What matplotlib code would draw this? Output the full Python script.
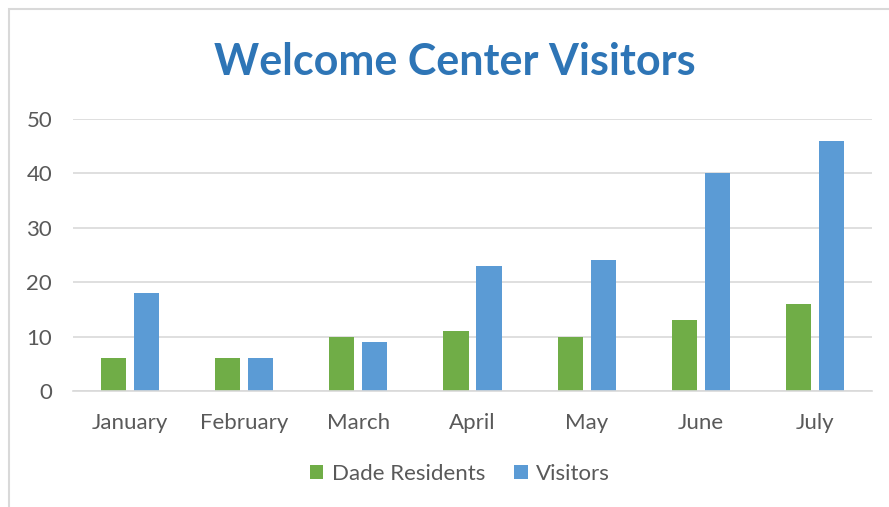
import matplotlib.pyplot as plt
import numpy as np
from matplotlib.patches import Rectangle

months = ['January', 'February', 'March', 'April', 'May', 'June', 'July']
residents = [6, 6, 10, 11, 10, 13, 16]
visitors = [18, 6, 9, 23, 24, 40, 46]

W, H = 889, 507
fig = plt.figure(figsize=(W / 100, H / 100), dpi=100)
plt.rcParams['font.family'] = ['Lato', 'DejaVu Sans']

# chart border (cropped on the right and bottom)
fig.patches.append(Rectangle((8.5 / W, -0.1), 1.2, (H - 8.5) / H + 0.1,
                             transform=fig.transFigure, fill=False,
                             edgecolor='#D9D9D9', linewidth=1.5))

ax = fig.add_axes([73 / W, 116 / H, (872 - 73) / W, (391 - 119) / H])

x = np.arange(len(months))
bw = 0.22
gap = 0.07
ax.bar(x - (bw + gap) / 2, residents, bw, color='#70AD47', label='Dade Residents')
ax.bar(x + (bw + gap) / 2, visitors, bw, color='#5B9BD5', label='Visitors')

ax.set_xlim(-0.5, len(months) - 0.5)
ax.set_ylim(0, 50)
ax.set_yticks(range(0, 51, 10))
ax.set_xticks(x)
ax.set_xticklabels(months)
ax.grid(axis='y', color='#D9D9D9', linewidth=1.2)
ax.set_axisbelow(True)
for s in ['top', 'right', 'left']:
    ax.spines[s].set_visible(False)
ax.spines['bottom'].set_color('#D9D9D9')
ax.spines['bottom'].set_linewidth(1.2)
ax.tick_params(length=0, colors='#595959', labelsize=16)
ax.tick_params(axis='x', pad=16)
ax.tick_params(axis='y', pad=15)

fig.text(455 / W, 1 - 62 / H, 'Welcome Center Visitors', ha='center', va='center',
         fontsize=31, fontweight='bold', color='#2E75B6')

fig.legend(loc='center', bbox_to_anchor=(460 / W, 1 - 474 / H), ncol=2, frameon=False,
           fontsize=16, labelcolor='#595959', handlelength=0.6, handleheight=0.6,
           columnspacing=1.3, handletextpad=0.4)

fig.savefig('out.png', dpi=100)
